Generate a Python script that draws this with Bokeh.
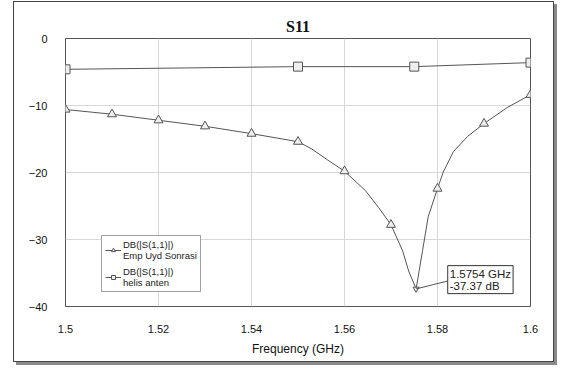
from bokeh.plotting import figure
from bokeh.models import (FixedTicker, Legend, LegendItem, Label)
from bokeh.embed import file_html
from bokeh.resources import INLINE

# ---- data ----
# Curve "Emp Uyd Sonrasi" (smooth trace)
emp_curve_freq = [1.50, 1.51, 1.52, 1.53, 1.54, 1.55, 1.553, 1.5563, 1.56, 1.5645, 1.5673,
                  1.57, 1.5725, 1.5738, 1.5754, 1.5768, 1.578, 1.58, 1.5812, 1.5834,
                  1.5865, 1.59, 1.595, 1.60]
emp_curve_db = [-10.6, -11.3, -12.2, -13.1, -14.2, -15.4, -16.5, -18.1, -19.8, -22.7, -25.2,
                -27.8, -31.7, -34.7, -37.37, -31.6, -26.6, -22.4, -20.0, -16.9,
                -14.6, -12.7, -10.3, -8.4]
# Marker points on that trace
emp_mark_freq = [1.50, 1.51, 1.52, 1.53, 1.54, 1.55, 1.56, 1.57, 1.58, 1.59, 1.60]
emp_mark_db = [-10.6, -11.3, -12.2, -13.1, -14.2, -15.4, -19.8, -27.8, -22.4, -12.7, -8.4]

# Curve "helis anten"
hel_freq = [1.50, 1.55, 1.575, 1.60]
hel_db = [-4.6, -4.2, -4.2, -3.6]

# Marker readout
marker_freq = 1.5754
marker_db = -37.37
marker_text = "1.5754 GHz\n-37.37 dB"
marker_box_freq = 1.5822   # where the readout box is anchored (left/top)
marker_box_db = -33.9
marker_lead_db = -36.2

x_ticks = [1.50, 1.52, 1.54, 1.56, 1.58, 1.60]
x_tick_labels = ["1.5", "1.52", "1.54", "1.56", "1.58", "1.6"]
y_ticks = [0, -10, -20, -30, -40]

title_text = "S11"
x_label = "Frequency (GHz)"
legend_labels = ["DB(|S(1,1)|)\nEmp Uyd Sonrasi", "DB(|S(1,1)|)\nhelis anten"]

LINE = "#555555"
FONT = "Liberation Sans"

p = figure(width=541, height=361, output_backend="svg", toolbar_location=None,
           x_range=(1.5, 1.6), y_range=(-40, 0),
           min_border_left=51, min_border_right=25, min_border_top=36, min_border_bottom=57)
p.styles = {"margin-left": "13px", "margin-top": "1px", "border": "1px solid #444444",
            "box-shadow": "3px 3px 0 #8a8a8a"}

p.title.text = title_text
p.title.align = "center"
p.title.text_font = "Liberation Serif"
p.title.text_font_style = "bold"
p.title.text_font_size = "16px"
p.title.text_color = "#111111"
p.title.standoff = 8

p.outline_line_color = "#555555"
p.outline_line_width = 1
p.background_fill_color = "white"
p.border_fill_color = "white"

p.xaxis.ticker = FixedTicker(ticks=x_ticks)
p.xaxis.major_label_overrides = {t: l for t, l in zip(x_ticks, x_tick_labels)}
p.yaxis.ticker = FixedTicker(ticks=y_ticks)
for ax in (p.xaxis, p.yaxis):
    ax.axis_line_color = None
    ax.major_tick_line_color = None
    ax.minor_tick_line_color = None
    ax.major_label_text_font = FONT
    ax.major_label_text_font_size = "11px"
    ax.major_label_text_color = "#111111"
    ax.major_label_standoff = 12
p.xaxis.axis_label = x_label
p.xaxis.axis_label_text_font = FONT
p.xaxis.axis_label_text_font_size = "12px"
p.xaxis.axis_label_text_font_style = "normal"
p.xaxis.axis_label_text_color = "#111111"
p.xaxis.axis_label_standoff = 6

p.xgrid.grid_line_color = "#d8d8d8"
p.ygrid.grid_line_color = "#d8d8d8"

emp_line = p.line(emp_curve_freq, emp_curve_db, line_color=LINE, line_width=1)
emp_marks = p.scatter(emp_mark_freq, emp_mark_db, marker="triangle", size=9,
                      line_color="#555555", fill_color="#eeeeee", line_width=1)
p.scatter([marker_freq], [marker_db], marker="inverted_triangle", size=6,
          line_color="#555555", fill_color="#eeeeee")

hel_line = p.line(hel_freq, hel_db, line_color=LINE, line_width=1)
hel_marks = p.scatter(hel_freq, hel_db, marker="square", size=9,
                      line_color="#555555", fill_color="#eeeeee", line_width=1)

# readout leader and box
p.segment(x0=[marker_freq], y0=[marker_db], x1=[marker_box_freq], y1=[marker_lead_db],
          line_color="#555555", line_width=1)
shadow = Label(x=marker_box_freq, y=marker_box_db, text=marker_text, x_offset=2, y_offset=-2,
               text_font=FONT, text_font_size="11.5px", text_alpha=0, text_line_height=1.0,
               background_fill_color="#8a8a8a", border_line_color="#8a8a8a",
               padding=2, text_baseline="top", text_align="left")
readout = Label(x=marker_box_freq, y=marker_box_db, text=marker_text,
                text_font=FONT, text_font_size="11.5px", text_color="#222222",
                background_fill_color="white", border_line_color="#333333",
                padding=2, text_baseline="top", text_align="left", text_line_height=1.0)
p.add_layout(shadow)
p.add_layout(readout)

legend = Legend(items=[LegendItem(label=legend_labels[0], renderers=[emp_line, emp_marks]),
                       LegendItem(label=legend_labels[1], renderers=[hel_line, hel_marks])],
                location=(36, 14), orientation="vertical",
                label_text_font=FONT, label_text_font_size="9.5px", label_text_color="#222222",
                label_text_line_height=1.05,
                glyph_width=16, glyph_height=10, label_standoff=2,
                spacing=5, padding=3, margin=0,
                border_line_color="#444444", background_fill_color="white",
                background_fill_alpha=1.0)
p.add_layout(legend, "center")

open("out.html", "w").write(file_html(p, INLINE))
